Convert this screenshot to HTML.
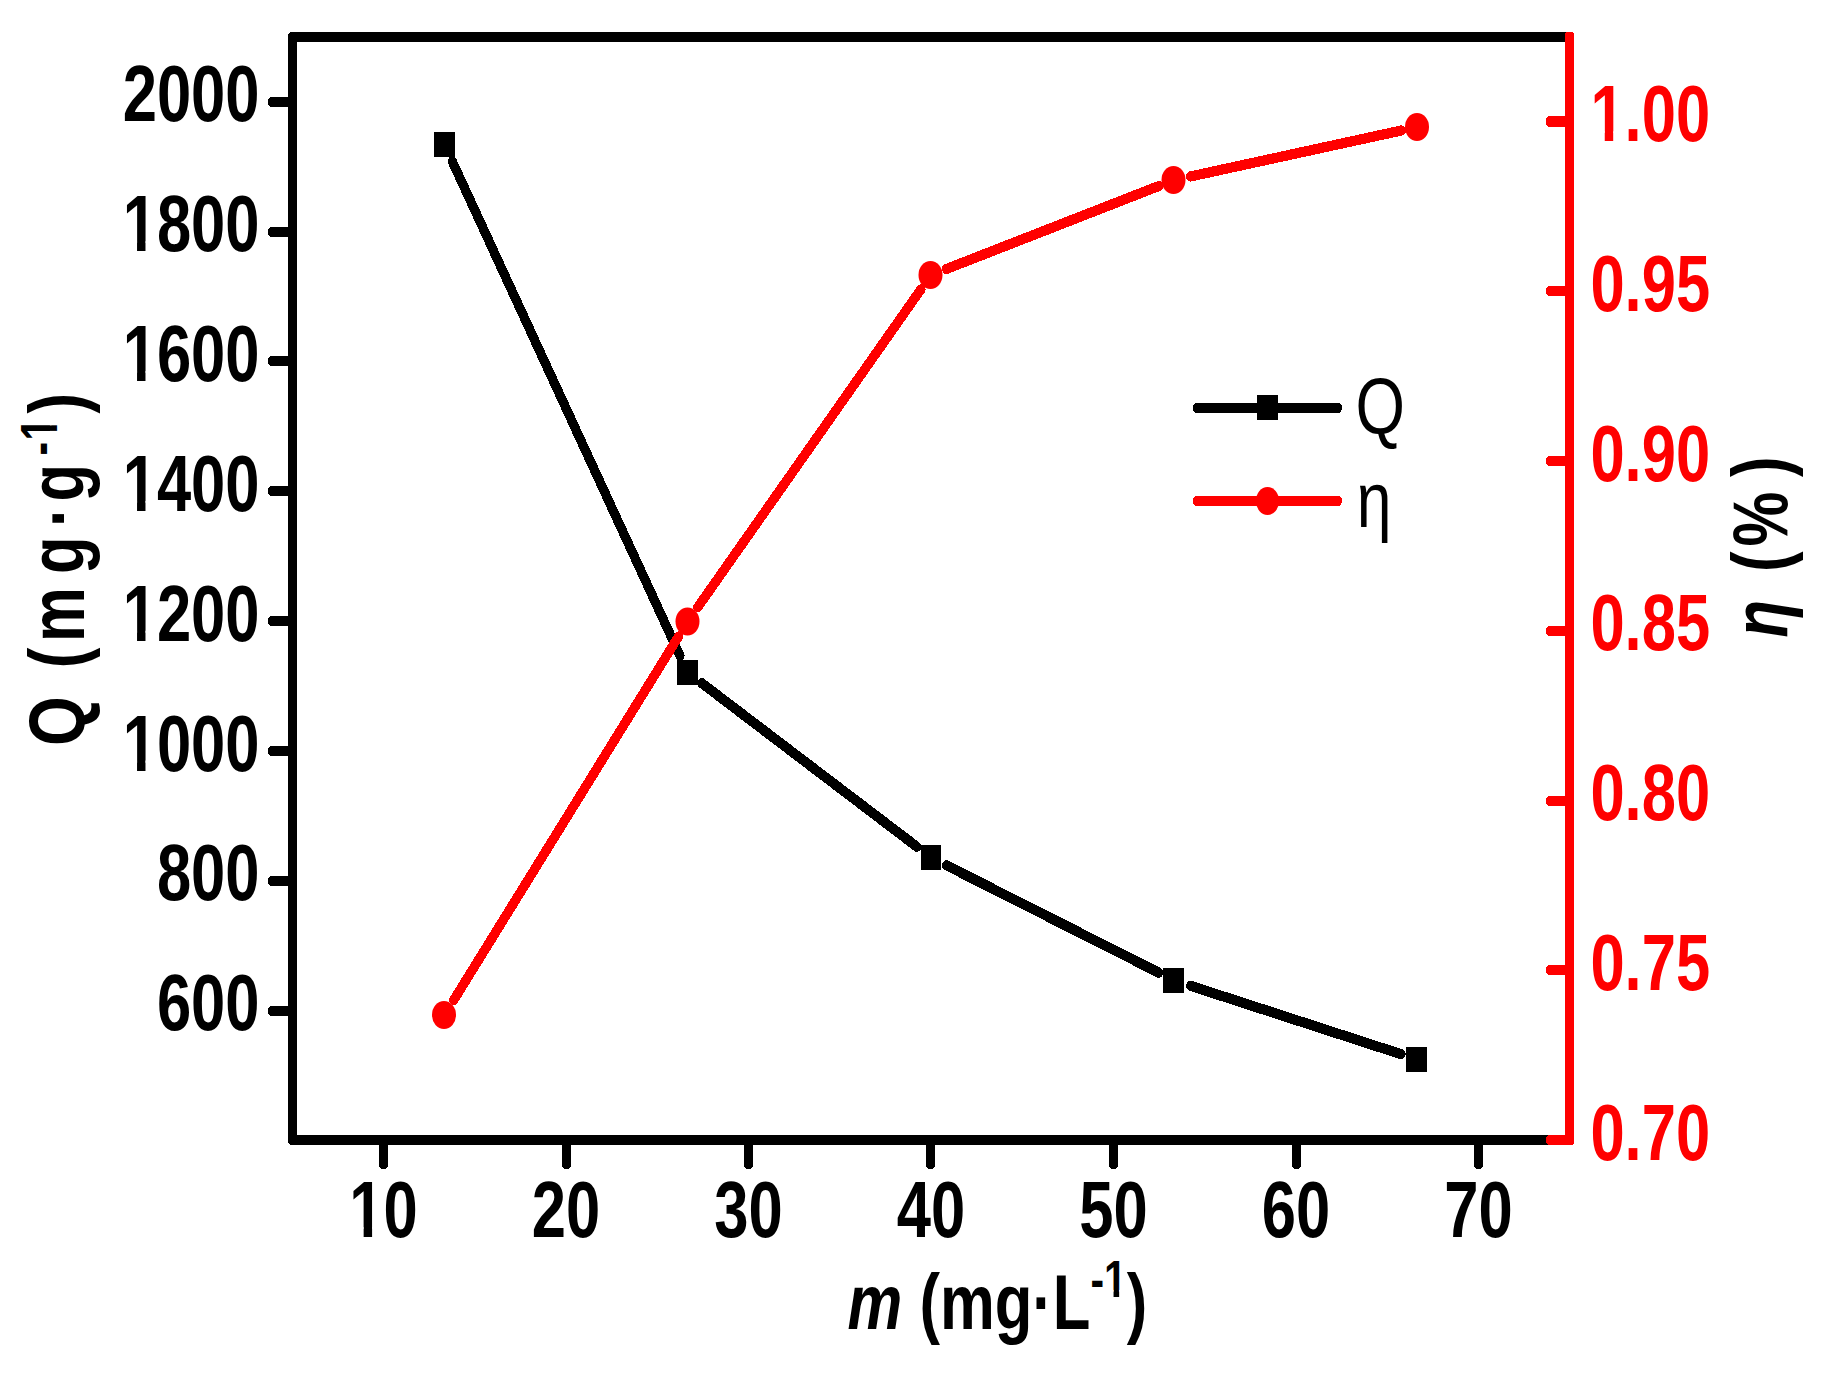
<!DOCTYPE html>
<html lang="en">
<head>
<meta charset="utf-8">
<title>Q and η versus m</title>
<style>
html,body{margin:0;padding:0;background:#fff;}
body{width:1840px;height:1374px;overflow:hidden;}
svg{display:block;}
</style>
</head>
<body>
<svg width="1840" height="1374" viewBox="0 0 1840 1374">
<rect width="1840" height="1374" fill="#fff"/>
<g shape-rendering="crispEdges">
<path d="M290,32 H1566 V42 H288 V34 Z" fill="#000"/>
<path d="M288,40 H297 V1140 H288 Z" fill="#000"/>
<path d="M288,1135 H1560 V1145 H290 L288,1143 Z" fill="#000"/>
<path d="M292,1006 H272 Q268,1006 268,1010 V1012 Q268,1016 272,1016 H292 Z" fill="#000"/>
<path d="M292,876 H272 Q268,876 268,880 V882 Q268,886 272,886 H292 Z" fill="#000"/>
<path d="M292,746 H272 Q268,746 268,750 V752 Q268,756 272,756 H292 Z" fill="#000"/>
<path d="M292,616 H272 Q268,616 268,620 V622 Q268,626 272,626 H292 Z" fill="#000"/>
<path d="M292,486 H272 Q268,486 268,490 V492 Q268,496 272,496 H292 Z" fill="#000"/>
<path d="M292,356 H272 Q268,356 268,360 V362 Q268,366 272,366 H292 Z" fill="#000"/>
<path d="M292,227 H272 Q268,227 268,231 V233 Q268,237 272,237 H292 Z" fill="#000"/>
<path d="M292,97 H272 Q268,97 268,101 V103 Q268,107 272,107 H292 Z" fill="#000"/>
<path d="M379,1140 V1165 Q379,1169 383,1169 H384 Q388,1169 388,1165 V1140 Z" fill="#000"/>
<path d="M562,1140 V1165 Q562,1169 566,1169 H567 Q571,1169 571,1165 V1140 Z" fill="#000"/>
<path d="M744,1140 V1165 Q744,1169 748,1169 H749 Q753,1169 753,1165 V1140 Z" fill="#000"/>
<path d="M926,1140 V1165 Q926,1169 930,1169 H931 Q935,1169 935,1165 V1140 Z" fill="#000"/>
<path d="M1109,1140 V1165 Q1109,1169 1113,1169 H1114 Q1118,1169 1118,1165 V1140 Z" fill="#000"/>
<path d="M1292,1140 V1165 Q1292,1169 1296,1169 H1297 Q1301,1169 1301,1165 V1140 Z" fill="#000"/>
<path d="M1474,1140 V1165 Q1474,1169 1478,1169 H1479 Q1483,1169 1483,1165 V1140 Z" fill="#000"/>
</g>
<g shape-rendering="crispEdges">
<g transform="scale(0.9,1)" stroke="#000" stroke-width="10.2" stroke-linecap="round">
<line x1="502.57" y1="161.41" x2="755.52" y2="655.59"/>
<line x1="779.86" y1="683.23" x2="1018.77" y2="846.77"/>
<line x1="1051.74" y1="865.37" x2="1287.42" y2="972.63"/>
<line x1="1322.95" y1="985.83" x2="1556.74" y2="1054.17"/>
</g>
<rect x="434.0" y="132.0" width="21" height="25" fill="#000"/>
<rect x="677.0" y="660.0" width="21" height="25" fill="#000"/>
<rect x="921.0" y="845.0" width="20" height="25" fill="#000"/>
<rect x="1163.0" y="968.0" width="21" height="25" fill="#000"/>
<rect x="1406.0" y="1047.0" width="21" height="25" fill="#000"/>
<g transform="scale(0.9,1)" stroke="#f00" stroke-width="10.2" stroke-linecap="round">
<line x1="504.22" y1="1000.00" x2="753.88" y2="636.50"/>
<line x1="775.37" y1="607.15" x2="1023.25" y2="289.35"/>
<line x1="1051.61" y1="268.96" x2="1287.54" y2="186.04"/>
<line x1="1322.57" y1="176.50" x2="1557.11" y2="130.50"/>
</g>
<ellipse cx="444.0" cy="1015.0" rx="12" ry="14" fill="#f00" shape-rendering="geometricPrecision"/>
<ellipse cx="687.5" cy="621.5" rx="12" ry="14" fill="#f00" shape-rendering="geometricPrecision"/>
<ellipse cx="930.5" cy="275.0" rx="12" ry="14" fill="#f00" shape-rendering="geometricPrecision"/>
<ellipse cx="1173.5" cy="180.0" rx="12" ry="14" fill="#f00" shape-rendering="geometricPrecision"/>
<ellipse cx="1417.0" cy="127.0" rx="12" ry="14" fill="#f00" shape-rendering="geometricPrecision"/>
<line transform="scale(0.9,1)" x1="1330.33" y1="408" x2="1486.33" y2="408" stroke="#000" stroke-width="10" stroke-linecap="round"/>
<rect x="1257" y="395" width="21" height="25" fill="#000"/>
<line transform="scale(0.9,1)" x1="1330.33" y1="501" x2="1486.33" y2="501" stroke="#f00" stroke-width="10" stroke-linecap="round"/>
<ellipse cx="1267.5" cy="501" rx="11.5" ry="14" fill="#f00" shape-rendering="geometricPrecision"/>
<path d="M1565,35 Q1565,32 1568,32 H1571 Q1574,32 1574,35 V1142 Q1574,1145 1571,1145 H1565 Z" fill="#f00"/>
<path d="M1568,1135 H1550 Q1546,1135 1546,1139 V1141 Q1546,1145 1550,1145 H1568 Z" fill="#f00"/>
<path d="M1568,965 H1550 Q1546,965 1546,969 V971 Q1546,975 1550,975 H1568 Z" fill="#f00"/>
<path d="M1568,796 H1550 Q1546,796 1546,800 V802 Q1546,806 1550,806 H1568 Z" fill="#f00"/>
<path d="M1568,626 H1550 Q1546,626 1546,630 V632 Q1546,636 1550,636 H1568 Z" fill="#f00"/>
<path d="M1568,456 H1550 Q1546,456 1546,460 V462 Q1546,466 1550,466 H1568 Z" fill="#f00"/>
<path d="M1568,286 H1550 Q1546,286 1546,290 V292 Q1546,296 1550,296 H1568 Z" fill="#f00"/>
<path d="M1568,116 H1550 Q1546,116 1546,120 V123 Q1546,127 1550,127 H1568 Z" fill="#f00"/>
</g>
<text transform="translate(259.5,1030.2) scale(0.7785,1)" font-size="79.0" text-anchor="end" font-family="Liberation Sans, Arial, Helvetica, sans-serif" font-weight="bold">600</text>
<text transform="translate(259.5,900.4) scale(0.7785,1)" font-size="79.0" text-anchor="end" font-family="Liberation Sans, Arial, Helvetica, sans-serif" font-weight="bold">800</text>
<text transform="translate(259.5,770.5) scale(0.7785,1)" font-size="79.0" text-anchor="end" font-family="Liberation Sans, Arial, Helvetica, sans-serif" font-weight="bold">1000</text>
<text transform="translate(259.5,640.7) scale(0.7785,1)" font-size="79.0" text-anchor="end" font-family="Liberation Sans, Arial, Helvetica, sans-serif" font-weight="bold">1200</text>
<text transform="translate(259.5,510.9) scale(0.7785,1)" font-size="79.0" text-anchor="end" font-family="Liberation Sans, Arial, Helvetica, sans-serif" font-weight="bold">1400</text>
<text transform="translate(259.5,381.1) scale(0.7785,1)" font-size="79.0" text-anchor="end" font-family="Liberation Sans, Arial, Helvetica, sans-serif" font-weight="bold">1600</text>
<text transform="translate(259.5,251.3) scale(0.7785,1)" font-size="79.0" text-anchor="end" font-family="Liberation Sans, Arial, Helvetica, sans-serif" font-weight="bold">1800</text>
<text transform="translate(259.5,121.4) scale(0.7785,1)" font-size="79.0" text-anchor="end" font-family="Liberation Sans, Arial, Helvetica, sans-serif" font-weight="bold">2000</text>
<text transform="translate(383.5,1237.2) scale(0.7785,1)" font-size="79.0" text-anchor="middle" font-family="Liberation Sans, Arial, Helvetica, sans-serif" font-weight="bold">10</text>
<text transform="translate(566.0,1237.2) scale(0.7785,1)" font-size="79.0" text-anchor="middle" font-family="Liberation Sans, Arial, Helvetica, sans-serif" font-weight="bold">20</text>
<text transform="translate(748.5,1237.2) scale(0.7785,1)" font-size="79.0" text-anchor="middle" font-family="Liberation Sans, Arial, Helvetica, sans-serif" font-weight="bold">30</text>
<text transform="translate(931.0,1237.2) scale(0.7785,1)" font-size="79.0" text-anchor="middle" font-family="Liberation Sans, Arial, Helvetica, sans-serif" font-weight="bold">40</text>
<text transform="translate(1113.5,1237.2) scale(0.7785,1)" font-size="79.0" text-anchor="middle" font-family="Liberation Sans, Arial, Helvetica, sans-serif" font-weight="bold">50</text>
<text transform="translate(1296.0,1237.2) scale(0.7785,1)" font-size="79.0" text-anchor="middle" font-family="Liberation Sans, Arial, Helvetica, sans-serif" font-weight="bold">60</text>
<text transform="translate(1478.5,1237.2) scale(0.7785,1)" font-size="79.0" text-anchor="middle" font-family="Liberation Sans, Arial, Helvetica, sans-serif" font-weight="bold">70</text>
<text transform="translate(1590.4,1159.5) scale(0.7785,1)" font-size="79.0" fill="#f00" font-family="Liberation Sans, Arial, Helvetica, sans-serif" font-weight="bold">0.70</text>
<text transform="translate(1590.4,989.8) scale(0.7785,1)" font-size="79.0" fill="#f00" font-family="Liberation Sans, Arial, Helvetica, sans-serif" font-weight="bold">0.75</text>
<text transform="translate(1590.4,820.1) scale(0.7785,1)" font-size="79.0" fill="#f00" font-family="Liberation Sans, Arial, Helvetica, sans-serif" font-weight="bold">0.80</text>
<text transform="translate(1590.4,650.4) scale(0.7785,1)" font-size="79.0" fill="#f00" font-family="Liberation Sans, Arial, Helvetica, sans-serif" font-weight="bold">0.85</text>
<text transform="translate(1590.4,480.7) scale(0.7785,1)" font-size="79.0" fill="#f00" font-family="Liberation Sans, Arial, Helvetica, sans-serif" font-weight="bold">0.90</text>
<text transform="translate(1590.4,311.0) scale(0.7785,1)" font-size="79.0" fill="#f00" font-family="Liberation Sans, Arial, Helvetica, sans-serif" font-weight="bold">0.95</text>
<text transform="translate(1590.4,141.3) scale(0.7785,1)" font-size="79.0" fill="#f00" font-family="Liberation Sans, Arial, Helvetica, sans-serif" font-weight="bold">1.00</text>
<text transform="translate(847.5,1329) scale(0.8,1)" font-size="77.0" font-family="Liberation Sans, Arial, Helvetica, sans-serif" font-weight="bold"><tspan font-style="italic">m</tspan> (mg·L<tspan font-size="51.0" dy="-32">-1</tspan><tspan dy="32">)</tspan></text>
<text transform="translate(84,749.5) rotate(-90) scale(0.8,1)" x="4.38 74.87 101.61 134.28 219.24 278.03 310.09 367.63 386.36 419.94" font-size="77" font-family="Liberation Sans, Arial, Helvetica, sans-serif" font-weight="bold"><tspan font-size="80">Q</tspan> (mg·g<tspan font-size="51" dy="-27">-1</tspan><tspan dy="27">)</tspan></text>
<text transform="translate(1787,640.5) rotate(-90) scale(0.8,1)" x="3.75 58.79 85.53 117.59 204.42" font-size="77" font-family="Liberation Sans, Arial, Helvetica, sans-serif" font-weight="bold"><tspan font-style="italic">η</tspan> (%)</text>
<text transform="translate(1355.6,434) scale(0.795,1)" font-size="80" font-family="Liberation Sans, Arial, Helvetica, sans-serif">Q</text>
<text transform="translate(1356.8,527) scale(0.8,1)" font-size="78" font-family="Liberation Sans, Arial, Helvetica, sans-serif">η</text>
<rect x="124.96" y="760.58" width="12.08" height="11.46" fill="#fff"/>
<rect x="145.48" y="760.58" width="11.30" height="11.46" fill="#fff"/>
<rect x="124.96" y="630.76" width="12.08" height="11.46" fill="#fff"/>
<rect x="145.48" y="630.76" width="11.30" height="11.46" fill="#fff"/>
<rect x="124.96" y="500.94" width="12.08" height="11.46" fill="#fff"/>
<rect x="145.48" y="500.94" width="11.30" height="11.46" fill="#fff"/>
<rect x="124.96" y="371.12" width="12.08" height="11.46" fill="#fff"/>
<rect x="145.48" y="371.12" width="11.30" height="11.46" fill="#fff"/>
<rect x="124.96" y="241.30" width="12.08" height="11.46" fill="#fff"/>
<rect x="145.48" y="241.30" width="11.30" height="11.46" fill="#fff"/>
<rect x="351.57" y="1227.24" width="12.08" height="11.46" fill="#fff"/>
<rect x="372.09" y="1227.24" width="11.30" height="11.46" fill="#fff"/>
<rect x="1592.67" y="131.34" width="12.08" height="11.46" fill="#fff"/>
<rect x="1613.19" y="131.34" width="11.30" height="11.46" fill="#fff"/>
<rect x="1105.00" y="1289.90" width="8.55" height="8.60" fill="#fff"/>
<rect x="1119.15" y="1289.90" width="8.03" height="8.60" fill="#fff"/>
<rect x="49.90" y="430.89" width="8.60" height="8.55" fill="#fff"/>
<rect x="49.90" y="417.26" width="8.60" height="8.03" fill="#fff"/>
</svg>
</body>
</html>
